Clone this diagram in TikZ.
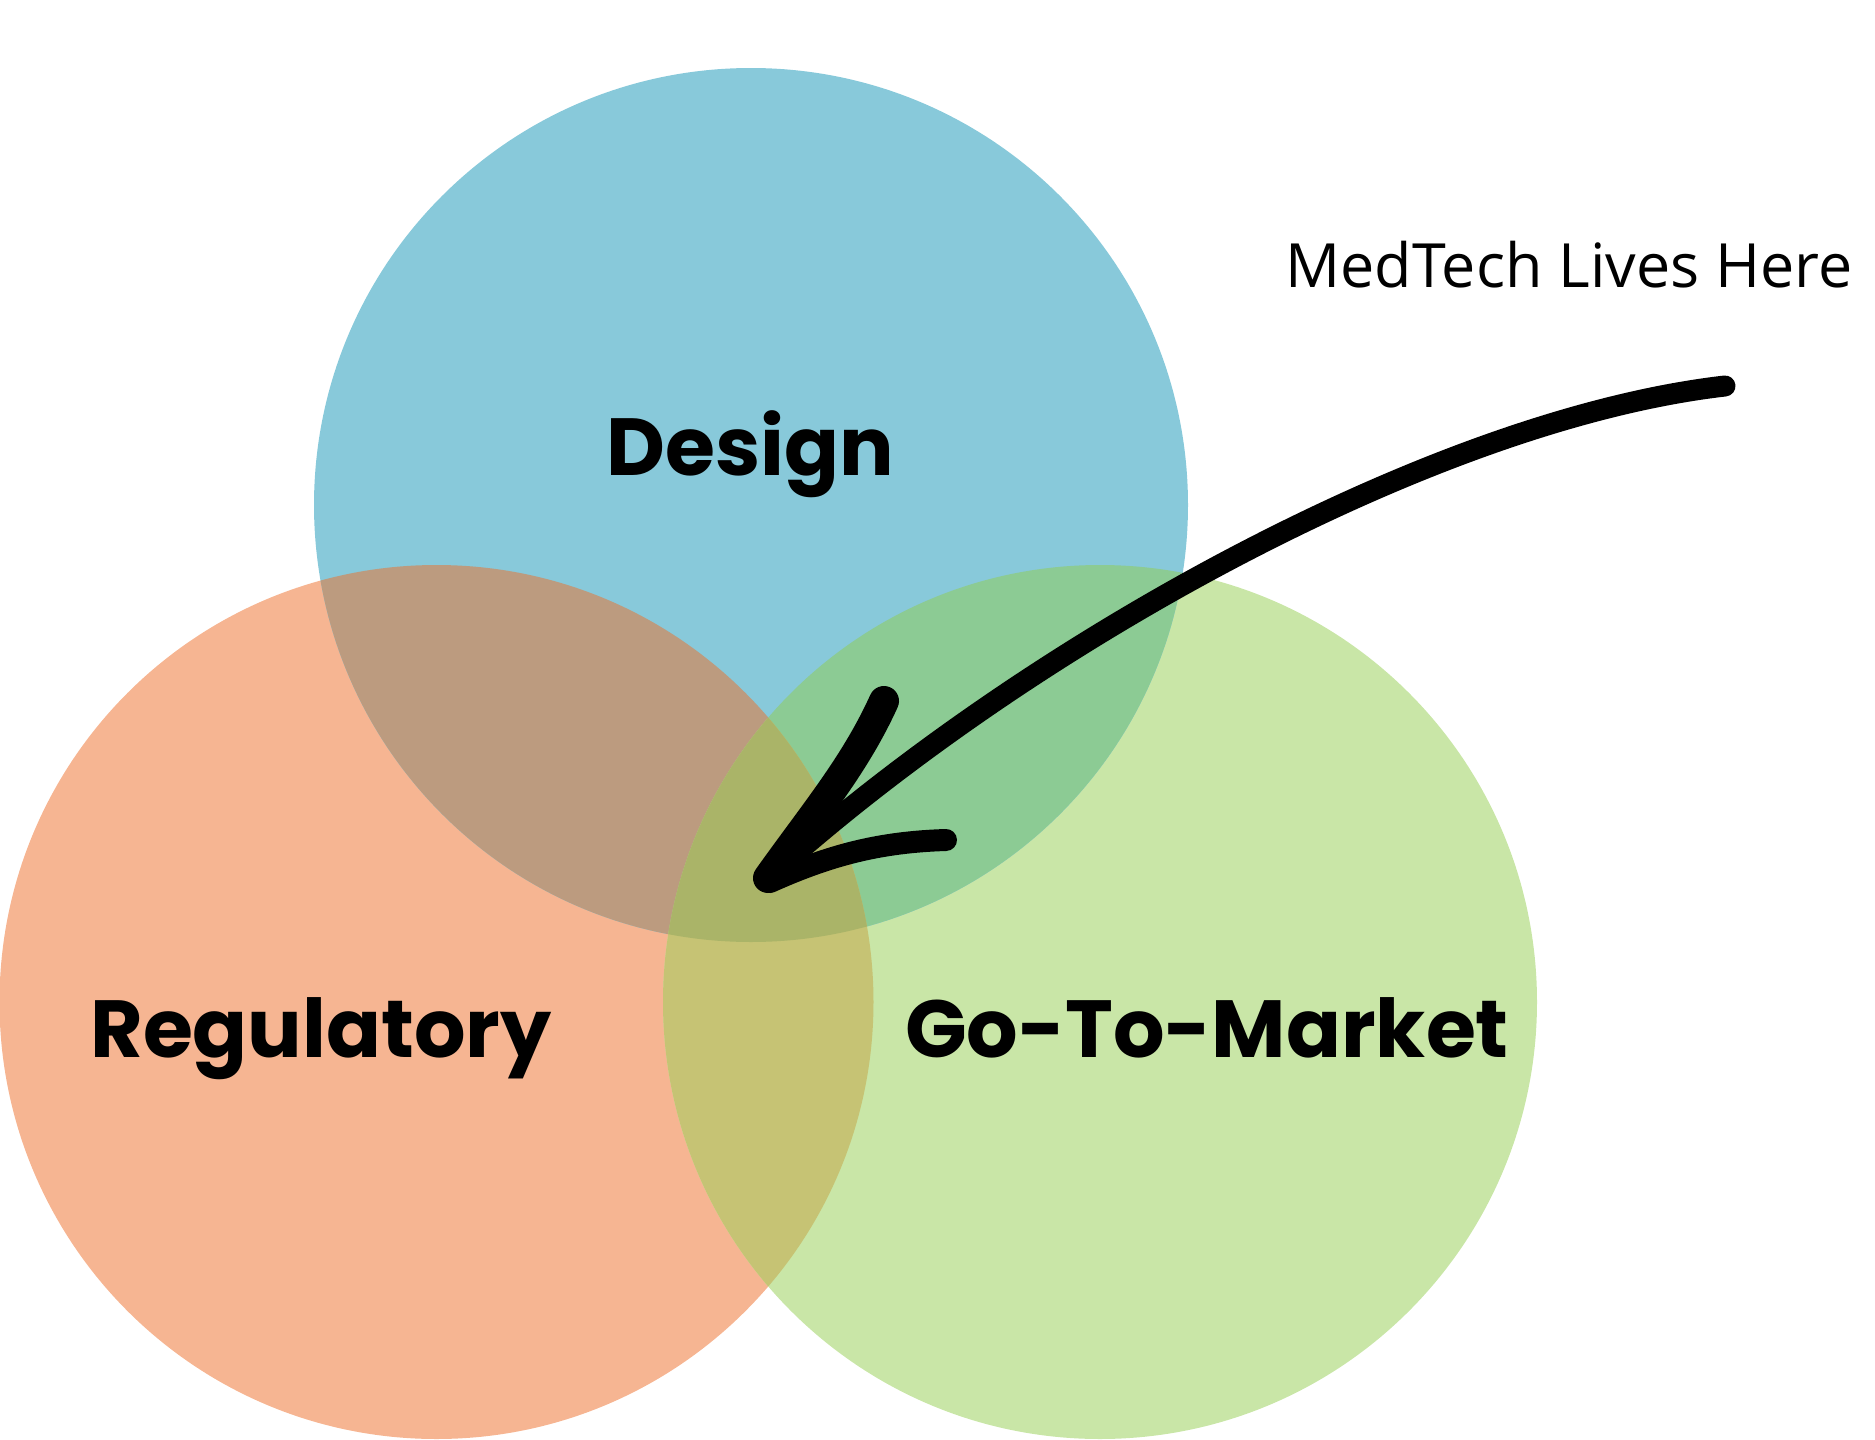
\documentclass[tikz,border=0pt]{standalone}
\usepackage{fontspec}
\setmainfont{Poppins}
\newfontfamily\labelfont{Poppins}[UprightFont=* Bold]
\newfontfamily\handfont{Open Sans}
\definecolor{cDes}{HTML}{88C9DA}
\definecolor{cReg}{HTML}{F6B592}
\definecolor{cGtm}{HTML}{C9E6A7}
\definecolor{cDR}{HTML}{BC9B7F}
\definecolor{cDG}{HTML}{8CCB94}
\definecolor{cRG}{HTML}{C6C374}
\definecolor{cAll}{HTML}{AAB468}
\tikzset{
  lbl/.style={anchor=base, inner sep=0pt, font=\labelfont\fontsize{81}{81}\selectfont},
  hand/.style={anchor=base, inner sep=0pt, font=\handfont\fontsize{61}{61}\selectfont},
  brush/.style={line width=#1, line cap=round, line join=round, draw=black}
}
\begin{document}
\begin{tikzpicture}[x=1pt,y=-1pt]
\useasboundingbox (0,0) rectangle (1875,1440);
\def\rr{437}
\coordinate (cD) at (751,505);
\coordinate (cR) at (436.5,1002);
\coordinate (cG) at (1100,1002);
% base circles
\fill[cReg] (cR) circle (\rr);
\fill[cGtm] (cG) circle (\rr);
\fill[cDes] (cD) circle (\rr);
% pairwise overlaps
\begin{scope}
  \clip (cD) circle (\rr);
  \fill[cDR] (cR) circle (\rr);
  \fill[cDG] (cG) circle (\rr);
\end{scope}
\begin{scope}
  \clip (cR) circle (\rr);
  \fill[cRG] (cG) circle (\rr);
\end{scope}
\begin{scope}
  \clip (cD) circle (\rr);
  \clip (cR) circle (\rr);
  \fill[cAll] (cG) circle (\rr);
\end{scope}
% labels
\node[lbl] (design) at (750,475) {Design};
\node[lbl] (reg) at (321,1057) {Regulatory};
\node[lbl] (gtm) at (1207,1057) {Go-To-Market};
\node[hand] (note) at (1569,287) {MedTech Lives Here};
% arrow
\coordinate (tail) at (1725,386);
\coordinate (tip) at (768,878);
\draw[brush=21] (tail) .. controls (1430,420) and (1020,650) .. (tip);
\draw[brush=30] (884,701) .. controls (855,765) and (815,812) .. (tip);
\draw[brush=22] (946,840) .. controls (880,842) and (830,855) .. (770,882);
\end{tikzpicture}
\end{document}
